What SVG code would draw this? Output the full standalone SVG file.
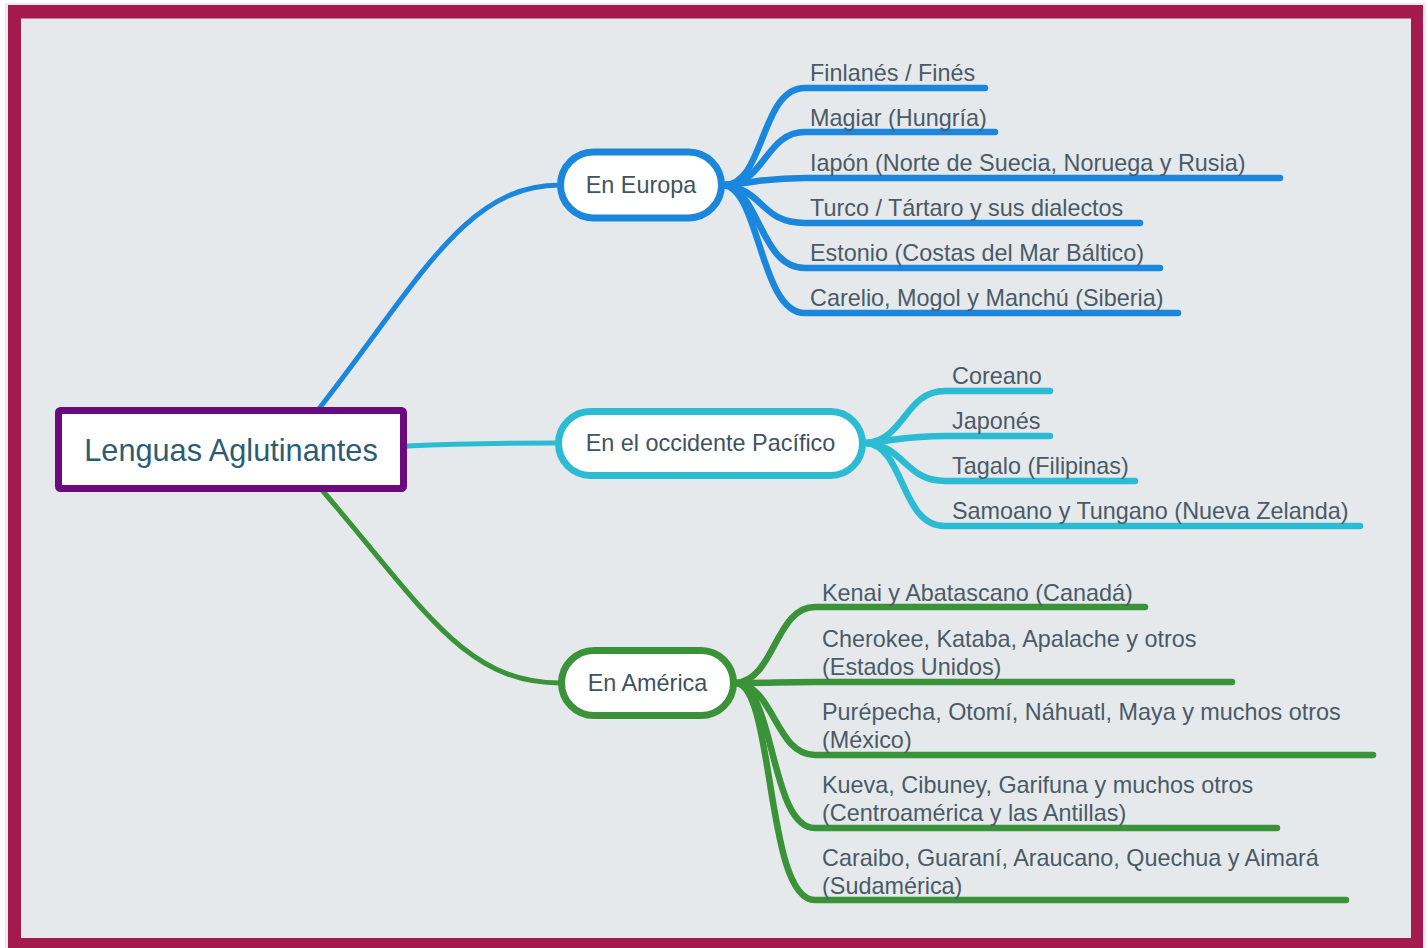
<svg xmlns="http://www.w3.org/2000/svg" width="1428" height="948" viewBox="0 0 1428 948">
<defs>
<style>
.leaf{font-family:"Liberation Sans",Arial,sans-serif;font-size:23.4px;fill:#4a5a67}
.mid{font-family:"Liberation Sans",Arial,sans-serif;font-size:23.4px;fill:#3f5262;text-anchor:middle}
.root{font-family:"Liberation Sans",Arial,sans-serif;font-size:30.7px;fill:#2b5c73;text-anchor:middle}
.c{fill:none;stroke-linecap:round;stroke-linejoin:round}
.b{stroke:#1a87dd}
.cy{stroke:#2bbcd4}
.g{stroke:#3a9339}
</style>
</defs>
<rect x="0" y="0" width="1428" height="948" fill="#ffffff"/>
<rect x="5" y="3" width="1421" height="950" fill="#d8d8d8" opacity="0.5"/>
<rect x="8" y="5" width="1415" height="950" fill="#a51a4c"/>
<rect x="21" y="18.5" width="1390" height="919.5" fill="#e6e9ec"/>
<g id="connectors">
<path class="c b" stroke-width="5" d="M318,410 C420,280 465,185 560,185"/>
<path class="c cy" stroke-width="5" d="M407,446 C470,443 500,443 556,443"/>
<path class="c g" stroke-width="5" d="M322,490 C425,610 465,683 560,683"/>
<g stroke-width="6.5">
<path class="c b" d="M724,185 C765,185 760,88 805,88 L985,88"/>
<path class="c b" d="M724,185 C765,185 765,132 805,132 L995,132"/>
<path class="c b" d="M724,185 C760,182 765,178 805,178 L1280,178"/>
<path class="c b" d="M724,185 C765,190 760,223 805,223 L1140,223"/>
<path class="c b" d="M724,185 C760,190 760,268 805,268 L1160,268"/>
<path class="c b" d="M724,185 C760,190 760,313 805,313 L1178,313"/>
<path class="c cy" d="M866,443 C905,440 905,391 945,391 L1050,391"/>
<path class="c cy" d="M866,443 C900,440 905,436 945,436 L1050,436"/>
<path class="c cy" d="M866,443 C905,446 905,481 945,481 L1135,481"/>
<path class="c cy" d="M866,443 C905,446 900,526 945,526 L1360,526"/>
<path class="c g" d="M736,683 C775,680 775,607 815,607 L1145,607"/>
<path class="c g" d="M736,683 C770,683 780,682 815,682 L1232,682"/>
<path class="c g" d="M736,683 C775,686 775,755 815,755 L1373,755"/>
<path class="c g" d="M736,683 C775,686 770,828 815,828 L1277,828"/>
<path class="c g" d="M736,683 C775,686 765,900 815,900 L1346,900"/>
</g>
</g>
<g id="root">
<rect x="58.5" y="410.5" width="345" height="78" rx="2" fill="#ffffff" stroke="#6b0a7e" stroke-width="7"/>
<text class="root" x="231" y="461">Lenguas Aglutinantes</text>
</g>
<g id="europa">
<rect x="560.5" y="152" width="161" height="66" rx="33" fill="#ffffff" stroke="#1a87dd" stroke-width="7"/>
<text class="mid" x="641" y="193">En Europa</text>
</g>
<g id="pacifico">
<rect x="558.5" y="411.5" width="304" height="64" rx="32" fill="#ffffff" stroke="#2bbcd4" stroke-width="7"/>
<text class="mid" x="710.5" y="451">En el occidente Pacífico</text>
</g>
<g id="america">
<rect x="561.5" y="650.5" width="172" height="65" rx="32.5" fill="#ffffff" stroke="#3a9339" stroke-width="7"/>
<text class="mid" x="647.5" y="691">En América</text>
</g>
<g id="eu-leaves">
<g id="finlanes"><text class="leaf" x="810" y="81">Finlanés / Finés</text></g>
<g id="magiar"><text class="leaf" x="810" y="126">Magiar (Hungría)</text></g>
<g id="iapon"><text class="leaf" x="810" y="171">Iapón (Norte de Suecia, Noruega y Rusia)</text></g>
<g id="turco"><text class="leaf" x="810" y="216">Turco / Tártaro y sus dialectos</text></g>
<g id="estonio"><text class="leaf" x="810" y="261">Estonio (Costas del Mar Báltico)</text></g>
<g id="carelio"><text class="leaf" x="810" y="306">Carelio, Mogol y Manchú (Siberia)</text></g>
</g>
<g id="pac-leaves">
<g id="coreano"><text class="leaf" x="952" y="384">Coreano</text></g>
<g id="japones"><text class="leaf" x="952" y="429">Japonés</text></g>
<g id="tagalo"><text class="leaf" x="952" y="474">Tagalo (Filipinas)</text></g>
<g id="samoano"><text class="leaf" x="952" y="519">Samoano y Tungano (Nueva Zelanda)</text></g>
</g>
<g id="am-leaves">
<g id="kenai"><text class="leaf" x="822" y="601">Kenai y Abatascano (Canadá)</text></g>
<g id="cherokee"><text class="leaf" x="822" y="647">Cherokee, Kataba, Apalache y otros</text><text class="leaf" x="822" y="675">(Estados Unidos)</text></g>
<g id="purepecha"><text class="leaf" x="822" y="720">Purépecha, Otomí, Náhuatl, Maya y muchos otros</text><text class="leaf" x="822" y="748">(México)</text></g>
<g id="kueva"><text class="leaf" x="822" y="793">Kueva, Cibuney, Garifuna y muchos otros</text><text class="leaf" x="822" y="821">(Centroamérica y las Antillas)</text></g>
<g id="caraibo"><text class="leaf" x="822" y="866">Caraibo, Guaraní, Araucano, Quechua y Aimará</text><text class="leaf" x="822" y="894">(Sudamérica)</text></g>
</g>
</svg>
